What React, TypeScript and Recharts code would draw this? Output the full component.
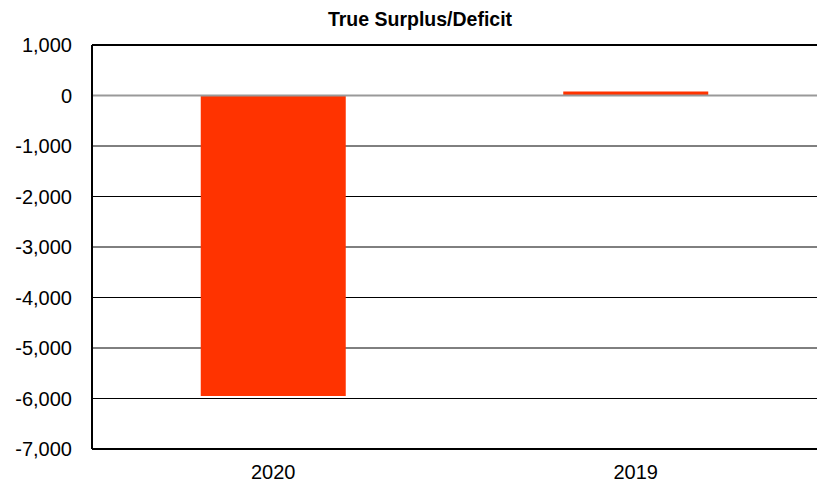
import React from 'react';
import { BarChart, Bar, XAxis, YAxis, CartesianGrid, ReferenceLine } from 'recharts';

const categories = ['2020', '2019'];
const surplusValues = [-5950, 80];
const yTicks = [1000, 0, -1000, -2000, -3000, -4000, -5000, -6000, -7000];

const data = categories.map((c, i) => ({ year: c, value: surplusValues[i] }));

const fmt = (v: number) => v.toLocaleString('en-US');
const FONT = '"Liberation Sans", Arial, sans-serif';

export default function App() {
  return (
    <div style={{ position: 'absolute', left: 0, top: 0, width: 817, height: 483, background: '#fff', fontFamily: FONT }}>
      <div style={{ position: 'absolute', left: 0, top: 8, width: 840, textAlign: 'center', fontWeight: 'bold', fontSize: 19.5, color: '#000', lineHeight: 'normal' }}>
        True Surplus/Deficit
      </div>
      <BarChart width={817} height={483} data={data} margin={{ top: 45, right: 0, bottom: 0, left: 0 }} barCategoryGap="30%">
        <CartesianGrid horizontal={true} vertical={false} stroke="#000" strokeWidth={1} />
        <XAxis
          dataKey="year"
          height={34}
          axisLine={{ stroke: '#000', strokeWidth: 2 }}
          tickLine={false}
          tickSize={6}
          tickMargin={10}
          tick={{ fill: '#000', fontSize: 20, fontFamily: FONT }}
        />
        <YAxis
          width={92}
          domain={[-7000, 1000]}
          ticks={yTicks}
          interval={0}
          tickFormatter={fmt}
          axisLine={{ stroke: '#000', strokeWidth: 2 }}
          tickLine={false}
          tickSize={6}
          tickMargin={14}
          tick={{ fill: '#000', fontSize: 20, fontFamily: FONT }}
        />
        <ReferenceLine y={1000} stroke="#000" strokeWidth={2} />
        <Bar dataKey="value" fill="#ff3300" isAnimationActive={false} />
        <ReferenceLine y={0} stroke="#999" strokeWidth={2} />
      </BarChart>
    </div>
  );
}
